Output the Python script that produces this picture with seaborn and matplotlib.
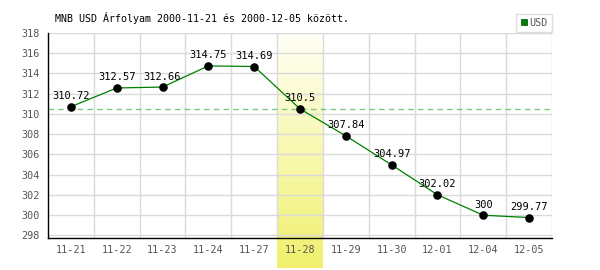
import numpy as np
import pandas as pd
import matplotlib
matplotlib.use("Agg")
import matplotlib.pyplot as plt
import matplotlib.transforms as mtransforms
from matplotlib.lines import Line2D
from matplotlib.patches import Rectangle
import seaborn as sns

dates = ["11-21", "11-22", "11-23", "11-24", "11-27", "11-28",
         "11-29", "11-30", "12-01", "12-04", "12-05"]
rates = [310.72, 312.57, 312.66, 314.75, 314.69, 310.5,
         307.84, 304.97, 302.02, 300, 299.77]
labels = ["310.72", "312.57", "312.66", "314.75", "314.69", "310.5",
          "307.84", "304.97", "302.02", "300", "299.77"]
highlight = "11-28"
series = "USD"
title = "MNB USD Árfolyam 2000-11-21 és 2000-12-05 között."
yticks = list(range(298, 319, 2))

df = pd.DataFrame({"date": dates, "rate": rates})

sns.set_theme(style="white")
plt.rcParams["font.family"] = ["DejaVu Sans Mono"]

fig = plt.figure(figsize=(6, 2.7), dpi=100)
ax = fig.add_axes([48/600, 1 - 238/270, (552-48)/600, (238-33)/270])
ax.set_facecolor("none")

sns.lineplot(data=df, x="date", y="rate", ax=ax, color="#008000",
             linewidth=0.9, sort=False, zorder=3)
sns.scatterplot(data=df, x="date", y="rate", ax=ax, color="black",
                s=38, edgecolor="black", linewidth=0, zorder=4)

ax.set_xlim(-0.5, len(dates) - 0.5)
ax.set_ylim(297.75, 318)

# highlight gradient band (below the axis as well)
hi = dates.index(highlight)
trans = mtransforms.blended_transform_factory(ax.transData, ax.transAxes)
n = 60
y0, y1 = -30/205, 1.0
top_c = np.array([1.0, 1.0, 0.96])
bot_c = np.array([0.94, 0.94, 0.42])
for k in range(n):
    f = k / n
    c = top_c * (1 - f) + bot_c * f
    ya = y1 - (y1 - y0) * (k + 1) / n
    r = Rectangle((hi - 0.5, ya), 1, (y1 - y0) / n + 0.002, transform=trans,
                  facecolor=c, edgecolor="none", clip_on=False, zorder=0)
    ax.add_patch(r)

# reference line at highlighted value
ax.axhline(rates[hi], color="#7cc87c", linestyle=(0, (4, 3)), linewidth=1.0, zorder=2)

# grid
ax.set_yticks(yticks)
ax.set_xticks(np.arange(len(dates)) + 0.5, minor=True)
ax.grid(True, which="major", axis="y", color="#dadada", linewidth=1, zorder=1)
ax.grid(True, which="minor", axis="x", color="#dadada", linewidth=1, zorder=1)
ax.set_axisbelow(True)

for s in ["top", "right"]:
    ax.spines[s].set_visible(False)
for s in ["left", "bottom"]:
    ax.spines[s].set_color("black")
    ax.spines[s].set_linewidth(1)

ax.tick_params(axis="both", which="both", length=0, labelsize=7.3,
               labelcolor="#555555")
ax.tick_params(axis="y", pad=6)
ax.tick_params(axis="x", pad=5)
ax.set_xlabel("")
ax.set_ylabel("")

for i, (v, t) in enumerate(zip(rates, labels)):
    ax.annotate(t, (dates[i], v), xytext=(0, 4), textcoords="offset points",
                ha="center", va="bottom", fontsize=7.5, color="black", zorder=5)

fig.text(55/600, 1 - 18/270, title, fontsize=7.2, color="black",
         ha="left", va="center")

handle = Line2D([], [], marker="s", color="#008000", linestyle="none",
                markersize=5, markeredgecolor="#004000", markeredgewidth=0.5)
leg = fig.legend([handle], [series], loc="lower right",
                 bbox_to_anchor=(552/600, 1 - 32/270), frameon=True,
                 fancybox=False, fontsize=7.3, handlelength=0.7,
                 handletextpad=0.2, borderpad=0.4, borderaxespad=0)
leg.get_frame().set_edgecolor("#d6d6d6")
leg.get_frame().set_linewidth(1)
for txt in leg.get_texts():
    txt.set_color("#555555")

fig.savefig("out.png", dpi=100)
